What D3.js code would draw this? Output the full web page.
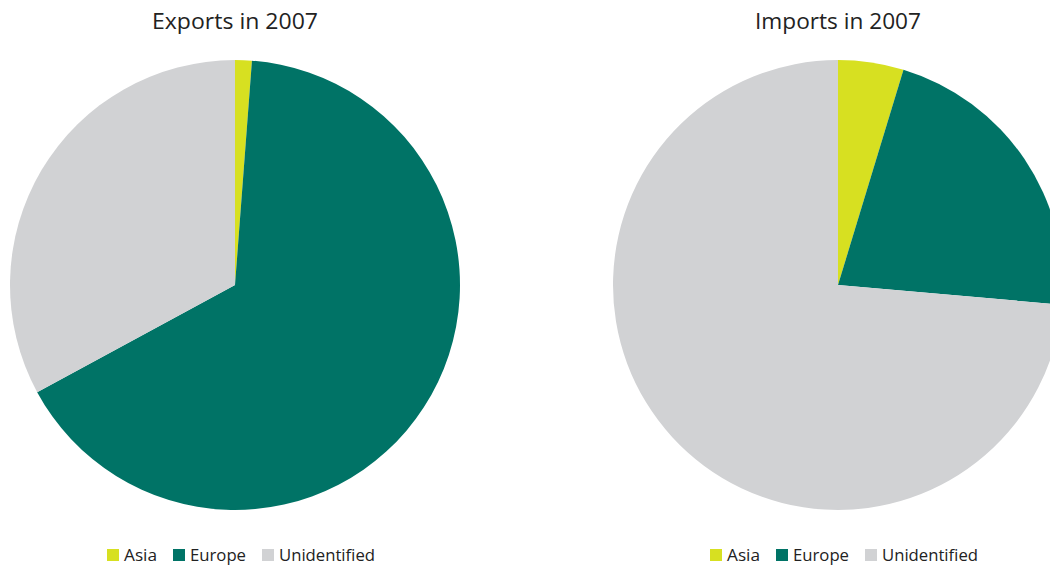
<!DOCTYPE html>
<html><head><meta charset="utf-8">
<script src="https://cdn.jsdelivr.net/npm/d3@7"></script>
<style>body{margin:0;background:#fff;overflow:hidden}svg{display:block}</style>
</head><body>
<svg id="chart" width="1050" height="565"></svg>
<script>
const categories = ["Asia", "Europe", "Unidentified"];
const colors = ["#d7e021", "#007366", "#d1d2d4"];
const titles = ["Exports in 2007", "Imports in 2007"];
const exportsValues = [1.2, 65.9, 32.9];
const importsValues = [4.7, 21.7, 73.6];

const svg = d3.select("#chart");
const font = "'Open Sans', sans-serif";
const color = d3.scaleOrdinal().domain(categories).range(colors);
const pie = d3.pie().sort(null).value(d => d.v);
const r = 225;
const arc = d3.arc().innerRadius(0).outerRadius(r);

const panels = [
  {cx: 235, values: exportsValues, title: titles[0]},
  {cx: 838, values: importsValues, title: titles[1]}
];

panels.forEach(p => {
  const data = categories.map((c, i) => ({c, v: p.values[i]}));
  const g = svg.append("g").attr("transform", `translate(${p.cx},285)`);
  g.selectAll("path").data(pie(data)).join("path")
    .attr("d", arc).attr("fill", d => color(d.data.c));
  const tt = svg.append("text").attr("x", p.cx).attr("y", 29).attr("text-anchor", "middle")
    .attr("font-family", font).attr("font-size", 21).attr("fill", "#222")
    .text(p.title);
  const tw = tt.node().getComputedTextLength();
  if (tw > 0) tt.attr("textLength", 166).attr("lengthAdjust", "spacingAndGlyphs");

  // legend
  const lg = svg.append("g");
  const widths = [33, 56, 96];
  let x = 0;
  categories.forEach((c, i) => {
    const it = lg.append("g").attr("transform", `translate(${x},0)`);
    it.append("rect").attr("x", 0).attr("y", -12).attr("width", 12).attr("height", 12).attr("fill", colors[i]);
    it.append("text").attr("x", 17).attr("y", 0).attr("font-family", font)
      .attr("font-size", 16).attr("fill", "#222").attr("textLength", widths[i])
      .attr("lengthAdjust", "spacingAndGlyphs").text(c);
    x += 17 + widths[i] + 16;
  });
  const total = x - 16;
  lg.attr("transform", `translate(${p.cx + 6 - total / 2},561)`);
});
</script>
</body></html>
